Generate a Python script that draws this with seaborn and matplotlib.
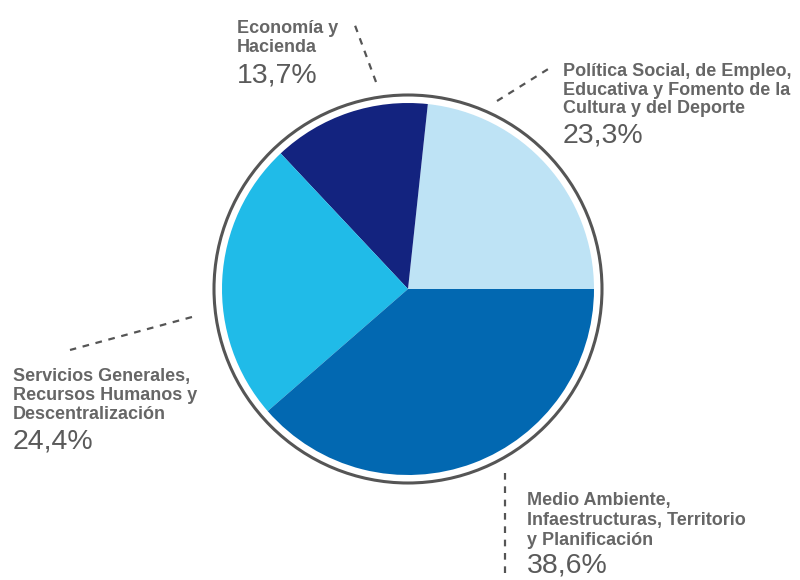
import matplotlib
matplotlib.use("Agg")
import matplotlib.pyplot as plt
import seaborn as sns
from matplotlib.patches import Circle

# ---- data ----
categories = [
    "Política Social, de Empleo,\nEducativa y Fomento de la\nCultura y del Deporte",
    "Economía y\nHacienda",
    "Servicios Generales,\nRecursos Humanos y\nDescentralización",
    "Medio Ambiente,\nInfaestructuras, Territorio\ny Planificación",
]
shares = [23.3, 13.7, 24.4, 38.6]
colors = ["#BEE3F5", "#13237F", "#20BBE8", "#0268B1"]

# ---- layout (pixel positions of labels and leader lines) ----
label_x = [563, 237, 13, 527]
label_baselines = [[76, 95, 113], [33, 52], [381, 400, 419], [505, 525, 545]]
pct_baseline = [142, 82, 449, 572]
leaders = [((497, 101), (553, 66)), ((376, 82), (353, 20)),
           ((192, 317), (70, 350)), ((505, 473), (505, 574))]

sns.set_theme(style="white")
plt.rcParams["font.family"] = ["Liberation Sans", "DejaVu Sans"]

fig = plt.figure(figsize=(8, 5.8), dpi=100)
ax = fig.add_axes([0, 0, 1, 1])
ax.set_xlim(0, 800)
ax.set_ylim(580, 0)
ax.set_aspect("equal")
ax.axis("off")

cx, cy, r = 408, 289, 186
ax.pie(shares, colors=colors, startangle=0, counterclock=False,
       center=(cx, cy), radius=r, wedgeprops=dict(linewidth=0),
       frame=False)
ax.set_xlim(0, 800)
ax.set_ylim(580, 0)
ax.add_patch(Circle((cx, cy), 194, fill=False, edgecolor="#555555", lw=2.2))

for (p0, p1) in leaders:
    ax.plot([p0[0], p1[0]], [p0[1], p1[1]], color="#555555", lw=1.6,
            linestyle=(0, (3, 3)))

label_color = "#666666"
pct_color = "#5a5a5a"
for i, cat in enumerate(categories):
    for line, yb in zip(cat.split("\n"), label_baselines[i]):
        ax.text(label_x[i], yb, line, fontsize=13, fontweight="bold",
                color=label_color, va="baseline", ha="left")
    pct = f"{shares[i]:.1f}".replace(".", ",") + "%"
    ax.text(label_x[i], pct_baseline[i], pct, fontsize=20.5,
            color=pct_color, va="baseline", ha="left")

fig.savefig("out.png", dpi=100)
